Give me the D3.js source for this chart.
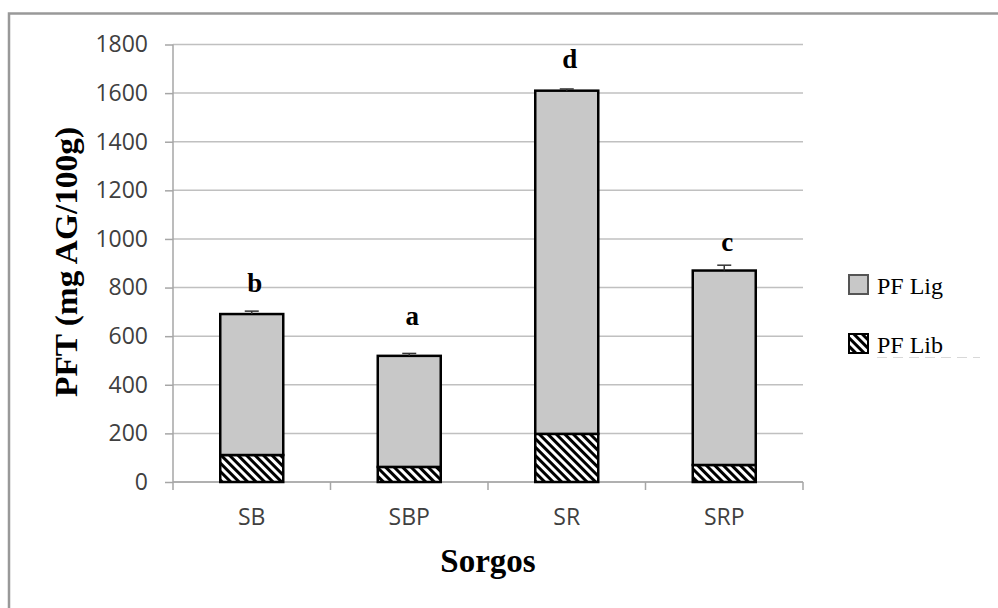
<!DOCTYPE html>
<html>
<head>
<meta charset="utf-8">
<script src="https://cdnjs.cloudflare.com/ajax/libs/d3/7.8.5/d3.min.js"></script>
<style>
body { margin: 0; background: #fff; }
</style>
</head>
<body>
<svg></svg>
<script>
var categories = ["SB", "SBP", "SR", "SRP"]
var pfLib = [111, 62, 198, 70]
var pfLig = [580, 457, 1412, 800]
var errors = [12, 10, 7, 22]
var letters = ["b", "a", "d", "c"]
var letterPos = [782, 646, 1704, 951]
var yTicks = [0, 200, 400, 600, 800, 1000, 1200, 1400, 1600, 1800]

var screen = {width: 998, height: 608}
var margins = {top: 44.5, left: 173, right: 195, bottom: 126}

var width = screen.width - margins.left - margins.right
var height = screen.height - margins.top - margins.bottom

var svg = d3.select("svg")
    .attr("width", screen.width)
    .attr("height", screen.height)

var defs = svg.append("defs")
var pattern = defs.append("pattern")
    .attr("id", "hatch")
    .attr("patternUnits", "userSpaceOnUse")
    .attr("width", 6)
    .attr("height", 6)
    .attr("patternTransform", "rotate(-45)")
pattern.append("rect")
    .attr("width", 6).attr("height", 6).attr("fill", "white")
pattern.append("rect")
    .attr("width", 3).attr("height", 6).attr("fill", "black")

// outer frame
svg.append("rect")
    .attr("x", 9)
    .attr("y", 13.5)
    .attr("width", 1100)
    .attr("height", 700)
    .attr("fill", "none")
    .attr("stroke", "#999")
    .attr("stroke-width", 2.5)

var xScale = d3.scaleBand()
    .domain(categories)
    .range([0, width])
    .paddingInner(0.6)
    .paddingOuter(0.3)

var xEdges = d3.scaleLinear()
    .domain([0, categories.length])
    .range([0, width])

var yScale = d3.scaleLinear()
    .domain([0, 1800])
    .range([height, 0])

var plot = svg.append("g")
    .attr("transform", "translate(" + margins.left + "," + margins.top + ")")

// gridlines
plot.append("g")
    .selectAll("line")
    .data(yTicks)
    .enter()
    .append("line")
    .attr("x1", 0)
    .attr("x2", width)
    .attr("y1", function(d) { return yScale(d) })
    .attr("y2", function(d) { return yScale(d) })
    .attr("stroke", "#c0c0c0")
    .attr("stroke-width", 1.5)

var yAxis = d3.axisLeft(yScale)
    .tickValues(yTicks)
    .tickFormat(d3.format("d"))
    .tickSize(8)
    .tickPadding(17)

plot.append("g")
    .attr("id", "yAxis")
    .call(yAxis)
    .call(function(g) {
        g.selectAll("path, line").attr("stroke", "#a6a6a6").attr("stroke-width", 1.5)
        g.select("path").attr("d", "M0," + height + "V0")
        g.selectAll("text")
            .attr("font-family", "Open Sans, sans-serif")
            .attr("font-size", 23)
            .attr("fill", "#404040")
    })

// x axis
var xAxisG = plot.append("g")
    .attr("transform", "translate(0," + height + ")")
xAxisG.append("line")
    .attr("x1", 0).attr("x2", width)
    .attr("stroke", "#a6a6a6").attr("stroke-width", 1.5)
xAxisG.selectAll(".tick")
    .data(d3.range(categories.length + 1))
    .enter()
    .append("line")
    .attr("x1", function(d) { return xEdges(d) })
    .attr("x2", function(d) { return xEdges(d) })
    .attr("y1", 0)
    .attr("y2", 8)
    .attr("stroke", "#a6a6a6").attr("stroke-width", 1.5)
xAxisG.selectAll("text")
    .data(categories)
    .enter()
    .append("text")
    .attr("x", function(d) { return xScale(d) + xScale.bandwidth() / 2 })
    .attr("y", 43)
    .attr("text-anchor", "middle")
    .attr("font-family", "Open Sans, sans-serif")
    .attr("font-size", 23)
    .attr("fill", "#404040")
    .text(function(d) { return d })

// bars
var bars = plot.append("g")
bars.selectAll(".lib")
    .data(categories)
    .enter()
    .append("rect")
    .attr("x", function(d) { return xScale(d) })
    .attr("width", xScale.bandwidth())
    .attr("y", function(d, i) { return yScale(pfLib[i]) })
    .attr("height", function(d, i) { return yScale(0) - yScale(pfLib[i]) })
    .attr("fill", "url(#hatch)")
    .attr("stroke", "black")
    .attr("stroke-width", 2.5)

bars.selectAll(".lig")
    .data(categories)
    .enter()
    .append("rect")
    .attr("x", function(d) { return xScale(d) })
    .attr("width", xScale.bandwidth())
    .attr("y", function(d, i) { return yScale(pfLib[i] + pfLig[i]) })
    .attr("height", function(d, i) { return yScale(pfLib[i]) - yScale(pfLib[i] + pfLig[i]) })
    .attr("fill", "#c8c8c8")
    .attr("stroke", "black")
    .attr("stroke-width", 2.5)

// error bars
var err = plot.append("g")
err.selectAll(".ev")
    .data(categories)
    .enter()
    .append("line")
    .attr("x1", function(d) { return xScale(d) + xScale.bandwidth() / 2 })
    .attr("x2", function(d) { return xScale(d) + xScale.bandwidth() / 2 })
    .attr("y1", function(d, i) { return yScale(pfLib[i] + pfLig[i]) })
    .attr("y2", function(d, i) { return yScale(pfLib[i] + pfLig[i] + errors[i]) })
    .attr("stroke", "#333").attr("stroke-width", 1.5)
err.selectAll(".eh")
    .data(categories)
    .enter()
    .append("line")
    .attr("x1", function(d) { return xScale(d) + xScale.bandwidth() / 2 - 7 })
    .attr("x2", function(d) { return xScale(d) + xScale.bandwidth() / 2 + 7 })
    .attr("y1", function(d, i) { return yScale(pfLib[i] + pfLig[i] + errors[i]) })
    .attr("y2", function(d, i) { return yScale(pfLib[i] + pfLig[i] + errors[i]) })
    .attr("stroke", "#333").attr("stroke-width", 1.5)

// significance letters
plot.append("g")
    .selectAll("text")
    .data(categories)
    .enter()
    .append("text")
    .attr("x", function(d) { return xScale(d) + xScale.bandwidth() / 2 + 3 })
    .attr("y", function(d, i) { return yScale(letterPos[i]) })
    .attr("text-anchor", "middle")
    .attr("font-family", "Liberation Serif, Times New Roman, serif")
    .attr("font-weight", "bold")
    .attr("font-size", 27)
    .text(function(d, i) { return letters[i] })

// axis titles
svg.append("text")
    .attr("transform", "translate(77,262) rotate(-90)")
    .attr("text-anchor", "middle")
    .attr("font-family", "Liberation Serif, Times New Roman, serif")
    .attr("font-weight", "bold")
    .attr("font-size", 32)
    .attr("textLength", 270)
    .attr("lengthAdjust", "spacingAndGlyphs")
    .text("PFT (mg AG/100g)")

svg.append("text")
    .attr("x", margins.left + width / 2)
    .attr("y", 572)
    .attr("text-anchor", "middle")
    .attr("font-family", "Liberation Serif, Times New Roman, serif")
    .attr("font-weight", "bold")
    .attr("font-size", 33)
    .text("Sorgos")

// legend
var legendItems = [
    {label: "PF Lig", fill: "#c8c8c8", stroke: "#555", y: 275},
    {label: "PF Lib", fill: "url(#hatch)", stroke: "black", y: 334}
]
var legend = svg.append("g")
legend.selectAll("rect")
    .data(legendItems)
    .enter()
    .append("rect")
    .attr("x", 849)
    .attr("y", function(d) { return d.y })
    .attr("width", 19)
    .attr("height", 19)
    .attr("fill", function(d) { return d.fill })
    .attr("stroke", function(d) { return d.stroke })
    .attr("stroke-width", 2)
legend.selectAll("text")
    .data(legendItems)
    .enter()
    .append("text")
    .attr("x", 877)
    .attr("y", function(d) { return d.y + 19 })
    .attr("font-family", "Liberation Serif, Times New Roman, serif")
    .attr("font-size", 24)
    .text(function(d) { return d.label })

// faint dashed trace under the last legend entry
legend.append("line")
    .attr("x1", 877).attr("x2", 980)
    .attr("y1", 357.5).attr("y2", 357.5)
    .attr("stroke", "#d8d8d8")
    .attr("stroke-width", 1)
    .attr("stroke-dasharray", "10,6")
</script>
</body>
</html>
